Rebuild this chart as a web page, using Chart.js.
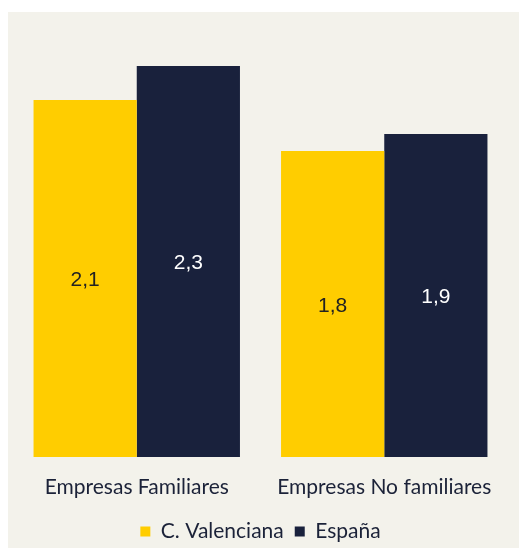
<!DOCTYPE html>
<html>
<head>
<meta charset="utf-8">
<script src="https://cdn.jsdelivr.net/npm/chart.js@4"></script>
<style>
  html, body { margin: 0; padding: 0; background: #ffffff; overflow: hidden; }
  .chart-box {
    position: absolute;
    left: 8px;
    top: 12px;
    width: 511px;
    height: 536px;
    background: #f3f2eb;
    overflow: hidden;
  }
  .chart-inner {
    position: relative;
    width: 511px;
    height: 540px;
  }
</style>
</head>
<body>
<div class="chart-box">
  <div class="chart-inner">
    <canvas id="gastoChart"></canvas>
  </div>
</div>
<script>
const categories = ['Empresas Familiares', 'Empresas No familiares'];
const valenciaValues = [2.1, 1.8];
const espanaValues = [2.3, 1.9];
const seriesNames = ['C. Valenciana', 'España'];

const YELLOW = '#ffcd00';
const NAVY = '#19213c';
const TEXT = '#1b2238';

// writes each value in the middle of its bar, comma as decimal separator
const barValueLabels = {
  id: 'barValueLabels',
  afterDatasetsDraw(chart) {
    const ctx = chart.ctx;
    ctx.save();
    ctx.font = '21px "Liberation Sans", Arial, sans-serif';
    ctx.textAlign = 'center';
    ctx.textBaseline = 'middle';
    chart.data.datasets.forEach((ds, i) => {
      const meta = chart.getDatasetMeta(i);
      meta.data.forEach((bar, j) => {
        const mid = (bar.y + bar.base) / 2;
        ctx.fillStyle = i === 0 ? '#222222' : '#ffffff';
        ctx.fillText(ds.data[j].toFixed(1).replace('.', ','), bar.x, mid + 2);
      });
    });
    ctx.restore();
  }
};

new Chart(document.getElementById('gastoChart'), {
  type: 'bar',
  data: {
    labels: categories,
    datasets: [
      { label: seriesNames[0], data: valenciaValues, backgroundColor: YELLOW },
      { label: seriesNames[1], data: espanaValues, backgroundColor: NAVY }
    ]
  },
  options: {
    responsive: true,
    maintainAspectRatio: false,
    animation: false,
    datasets: {
      bar: { categoryPercentage: 0.834, barPercentage: 1.0 }
    },
    layout: {
      padding: { top: 20, left: 5, right: 11, bottom: 0 }
    },
    plugins: {
      legend: {
        position: 'bottom',
        labels: {
          boxWidth: 10,
          boxHeight: 10,
          padding: 11,
          color: TEXT,
          font: { family: 'Lato', size: 21, lineHeight: 1 }
        }
      },
      tooltip: { enabled: false }
    },
    scales: {
      x: {
        grid: { display: false },
        border: { display: false },
        ticks: {
          color: TEXT,
          padding: 12,
          font: { family: 'Lato', size: 21, lineHeight: 1 }
        }
      },
      y: {
        display: false,
        min: 0,
        max: 2.5
      }
    }
  },
  plugins: [barValueLabels]
});
</script>
</body>
</html>
